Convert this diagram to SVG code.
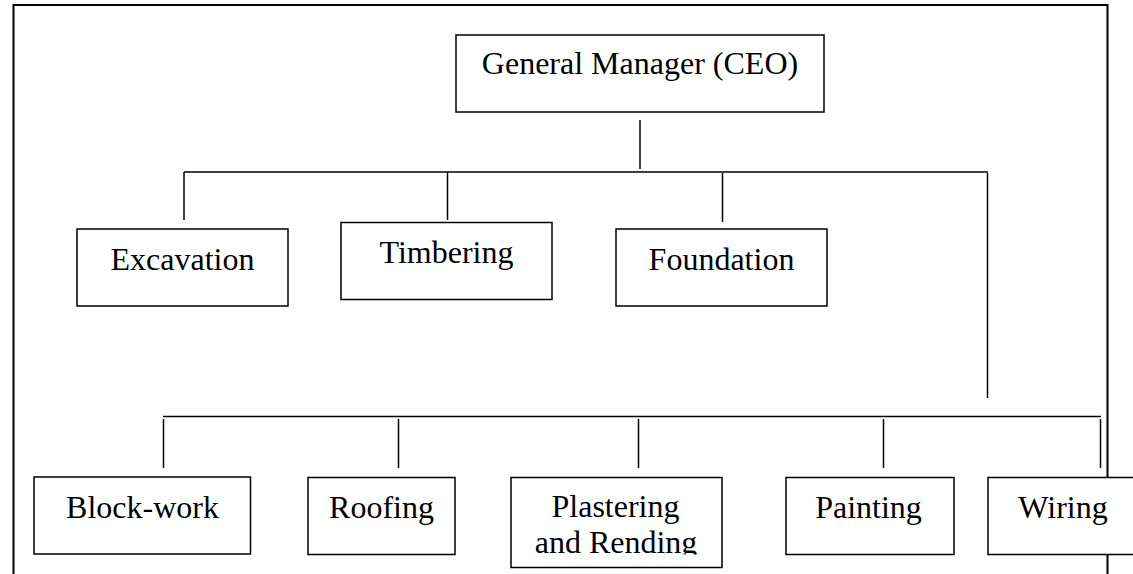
<svg xmlns="http://www.w3.org/2000/svg" width="1133" height="574" viewBox="0 0 1133 574">
  <style>
    .frame { fill: none; stroke: #000; stroke-width: 2; }
    .box rect { fill: #fff; stroke: #000; stroke-width: 1.5; }
    .box text { font-family: "Liberation Serif", "Times New Roman", serif; font-size: 32px; fill: #000; text-anchor: middle; }
    #connectors path { fill: none; stroke: #000; stroke-width: 1.5; }
  </style>
  <defs>
    <clipPath id="clipPlaster">
      <rect x="500" y="470" width="240" height="84.5"/>
    </clipPath>
  </defs>
  <rect width="1133" height="574" fill="#fff"/>

  <!-- outer page frame -->
  <path class="frame" d="M13.5 580 V5 H1107.5 V580"/>

  <g id="connectors">
    <path d="M640 120 V169"/>
    <path d="M184 172 H988"/>
    <path d="M184 172 V220"/>
    <path d="M447.5 172 V220"/>
    <path d="M722.5 173 V222"/>
    <path d="M987.5 173 V398"/>
    <path d="M163 416.5 H1101"/>
    <path d="M163.5 419 V468"/>
    <path d="M398.5 419 V468"/>
    <path d="M638.5 419 V468"/>
    <path d="M883.5 419 V468"/>
    <path d="M1100.5 419 V468"/>
  </g>

  <g id="ceo" class="box">
    <rect x="456" y="35" width="368" height="77"/>
    <text x="640" y="74">General Manager (CEO)</text>
  </g>

  <g id="excavation" class="box">
    <rect x="77" y="229" width="211" height="77"/>
    <text x="182.5" y="270">Excavation</text>
  </g>

  <g id="timbering" class="box">
    <rect x="341" y="222.5" width="211" height="77"/>
    <text x="446.5" y="263">Timbering</text>
  </g>

  <g id="foundation" class="box">
    <rect x="616" y="229" width="211" height="77"/>
    <text x="721.5" y="269.5">Foundation</text>
  </g>

  <g id="blockwork" class="box">
    <rect x="34" y="477" width="216.5" height="77"/>
    <text x="142.5" y="517.5">Block-work</text>
  </g>

  <g id="roofing" class="box">
    <rect x="308" y="477.5" width="147" height="77"/>
    <text x="381.5" y="517.5">Roofing</text>
  </g>

  <g id="plastering" class="box">
    <rect x="511" y="477.5" width="211" height="90"/>
    <text x="615.5" y="516.5">Plastering</text>
    <text x="616" y="552.5" clip-path="url(#clipPlaster)">and Rending</text>
  </g>

  <g id="painting" class="box">
    <rect x="786" y="477.5" width="168" height="77"/>
    <text x="868.5" y="517.5">Painting</text>
  </g>

  <g id="wiring" class="box">
    <rect x="988" y="477.5" width="152" height="77"/>
    <text x="1063" y="517.5">Wiring</text>
  </g>
</svg>
